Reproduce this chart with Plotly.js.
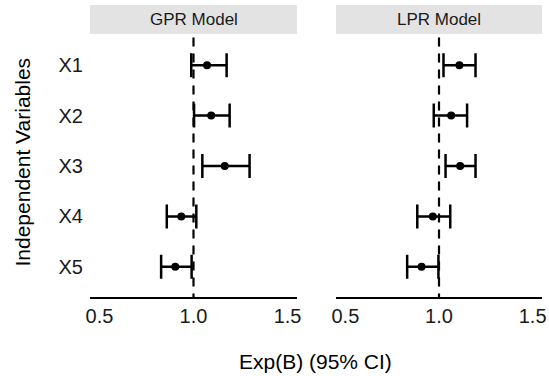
<!DOCTYPE html>
<html>
<head>
<meta charset="utf-8">
<script src="https://cdn.plot.ly/plotly-3.0.1.min.js"></script>
<style>html,body{margin:0;padding:0;background:#fff;}#chart{width:549px;height:376px;}</style>
</head>
<body>
<div id="chart"></div>
<script>
var variables = ['X1', 'X2', 'X3', 'X4', 'X5'];
var panels = ['GPR Model', 'LPR Model'];
var xTicks = [0.5, 1.0, 1.5];
var xTickText = ['0.5', '1.0', '1.5'];

var gprEst  = [1.072, 1.094, 1.166, 0.935, 0.903];
var gprLow  = [0.988, 1.003, 1.047, 0.858, 0.828];
var gprHigh = [1.176, 1.192, 1.298, 1.015, 0.990];

var lprEst  = [1.109, 1.065, 1.113, 0.967, 0.907];
var lprLow  = [1.024, 0.972, 1.035, 0.884, 0.830];
var lprHigh = [1.195, 1.150, 1.195, 1.060, 0.997];

var FONT = 'Liberation Sans, Arial, sans-serif';

function mk(est, low, high, xa) {
  return {
    type: 'scatter', mode: 'markers',
    x: est, y: variables, xaxis: xa, yaxis: 'y',
    marker: {color: '#000', size: 8},
    error_x: {
      type: 'data', symmetric: false,
      array: high.map(function (h, i) { return h - est[i]; }),
      arrayminus: low.map(function (l, i) { return est[i] - l; }),
      color: '#000', thickness: 2.5, width: 12
    },
    showlegend: false, hoverinfo: 'none'
  };
}

var data = [mk(gprEst, gprLow, gprHigh, 'x'), mk(lprEst, lprLow, lprHigh, 'x2')];

var plotH = 262, plotW = 452;
var dom1 = [0, 207 / plotW];
var dom2 = [246 / plotW, 1];

function xax(dom) {
  return {
    domain: dom, range: [0.45, 1.55], anchor: 'y',
    showgrid: false, zeroline: false,
    showline: true, linecolor: '#000', linewidth: 2,
    ticks: '', tickvals: xTicks, ticktext: xTickText,
    tickfont: {family: FONT, size: 20, color: '#1a1a1a'},
    fixedrange: true
  };
}

var stripY0 = 1 + 1 / plotH, stripY1 = 1 + 30 / plotH;
var shapes = [];
var annotations = [];
[dom1, dom2].forEach(function (d, i) {
  shapes.push({type: 'rect', xref: 'paper', yref: 'paper', x0: d[0], x1: d[1], y0: stripY0, y1: stripY1,
    fillcolor: '#e3e3e3', line: {width: 0}, layer: 'below'});
  shapes.push({type: 'line', xref: i === 0 ? 'x' : 'x2', yref: 'paper', x0: 1, x1: 1, y0: 0.99, y1: 0,
    line: {color: '#000', width: 2.2, dash: '9px,7px'}});
  annotations.push({xref: 'paper', yref: 'paper', x: (d[0] + d[1]) / 2, y: (stripY0 + stripY1) / 2,
    text: panels[i], showarrow: false, xanchor: 'center', yanchor: 'middle',
    font: {family: FONT, size: 17, color: '#1a1a1a'}});
});
annotations.push({xref: 'paper', yref: 'paper', x: (315 - 90) / plotW, y: -(361 - 297) / plotH,
  text: 'Exp(B) (95% CI)', showarrow: false, xanchor: 'center', yanchor: 'middle',
  font: {family: FONT, size: 21, color: '#000'}});
annotations.push({xref: 'paper', yref: 'paper', x: (22 - 90) / plotW, y: 1 - (162.5 - 35) / plotH,
  text: 'Independent Variables', showarrow: false, xanchor: 'center', yanchor: 'middle', textangle: -90,
  font: {family: FONT, size: 21, color: '#000'}});

var layout = {
  width: 549, height: 376,
  margin: {l: 90, r: 7, t: 35, b: 79},
  paper_bgcolor: '#fff', plot_bgcolor: '#fff',
  font: {family: FONT},
  xaxis: xax(dom1),
  xaxis2: xax(dom2),
  yaxis: {
    type: 'category', categoryarray: variables.slice().reverse(), categoryorder: 'array',
    range: [-0.6, 4.6], showgrid: false, zeroline: false, showline: false, ticks: '',
    ticklabelstandoff: 6,
    tickfont: {family: FONT, size: 20, color: '#1a1a1a'}, fixedrange: true
  },
  shapes: shapes,
  annotations: annotations
};

Plotly.newPlot('chart', data, layout, {staticPlot: true, displayModeBar: false});
</script>
</body>
</html>
